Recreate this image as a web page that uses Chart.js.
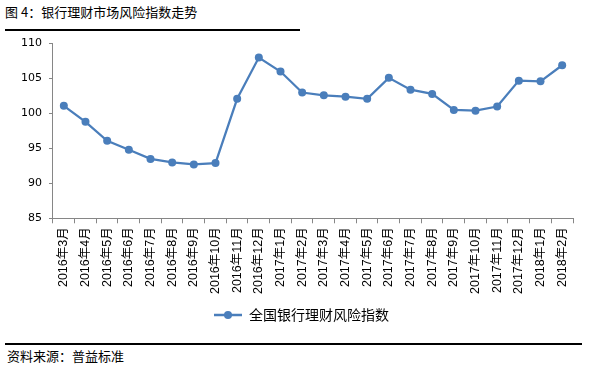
<!DOCTYPE html>
<html>
<head>
    <title>银行理财市场风险指数走势</title>
    <script src="https://cdn.jsdelivr.net/npm/chart.js"></script>
    <style>
        body {
            margin: 0;
            width: 589px;
            height: 370px;
            background: #fff;
            font-family: "Noto Sans CJK SC", sans-serif;
            position: relative;
            overflow: hidden;
        }
        #title {
            position: absolute;
            left: 5px;
            top: 2px;
            width: 295px;
            font-size: 13px;
            line-height: 20px;
            border-bottom: 2px solid #000;
            padding-bottom: 7px;
        }
        #chart-box {
            position: absolute;
            left: 0;
            top: 30px;
            width: 589px;
            height: 310px;
        }
        #source {
            position: absolute;
            left: 5px;
            top: 343px;
            width: 575px;
            border-top: 2px solid #000;
            font-size: 13px;
            line-height: 22px;
            padding-left: 2px;
        }
    </style>
</head>
<body>
    <div id="title">图 4：银行理财市场风险指数走势</div>
    <div id="chart-box"><canvas id="riskChart"></canvas></div>
    <div id="source">资料来源：普益标准</div>

    <script>
        // months and index values
        const months = ["2016年3月", "2016年4月", "2016年5月", "2016年6月", "2016年7月", "2016年8月",
            "2016年9月", "2016年10月", "2016年11月", "2016年12月", "2017年1月", "2017年2月",
            "2017年3月", "2017年4月", "2017年5月", "2017年6月", "2017年7月", "2017年8月",
            "2017年9月", "2017年10月", "2017年11月", "2017年12月", "2018年1月", "2018年2月"];
        const riskIndex = [101.1, 98.8, 96.1, 94.8, 93.5, 93.0, 92.7, 92.9, 102.1, 108.0, 106.0, 103.0,
            102.6, 102.4, 102.1, 105.1, 103.4, 102.8, 100.5, 100.4, 101.0, 104.7, 104.6, 106.9];
        const seriesName = "全国银行理财风险指数";
        const yTicks = [85, 90, 95, 100, 105, 110];

        const LINE_COLOR = "#4a7ebb";
        const AXIS_COLOR = "#868686";

        // legend marker: short line with a dot in the middle
        const marker = document.createElement("canvas");
        marker.width = 28;
        marker.height = 10;
        let mctx = marker.getContext("2d");
        mctx.strokeStyle = LINE_COLOR;
        mctx.lineWidth = 2.5;
        mctx.beginPath();
        mctx.moveTo(0, 5);
        mctx.lineTo(28, 5);
        mctx.stroke();
        mctx.fillStyle = LINE_COLOR;
        mctx.beginPath();
        mctx.arc(14, 5, 4, 0, Math.PI * 2);
        mctx.fill();

        // the legend sits a bit right of centre in the original
        const shiftLegend = {
            id: "shiftLegend",
            afterLayout(chart) {
                chart.legend.left += 8;
                chart.legend.right += 8;
            }
        };

        const ctx = document.getElementById("riskChart").getContext("2d");
        new Chart(ctx, {
            type: "line",
            data: {
                labels: months,
                datasets: [{
                    label: seriesName,
                    data: riskIndex,
                    borderColor: LINE_COLOR,
                    backgroundColor: LINE_COLOR,
                    borderWidth: 2.25,
                    pointRadius: 4,
                    pointHoverRadius: 4,
                    pointBorderWidth: 0,
                    tension: 0
                }]
            },
            options: {
                responsive: true,
                maintainAspectRatio: false,
                animation: false,
                layout: {
                    padding: { left: 14, right: 16, top: 1, bottom: 8 }
                },
                plugins: {
                    tooltip: { enabled: false },
                    legend: {
                        position: "bottom",
                        labels: {
                            usePointStyle: true,
                            pointStyle: marker,
                            pointStyleWidth: 28,
                            color: "#000",
                            padding: 10,
                            font: { family: "Noto Sans CJK SC", size: 14 }
                        }
                    }
                },
                scales: {
                    x: {
                        offset: true,
                        grid: {
                            offset: true,
                            drawOnChartArea: false,
                            drawTicks: true,
                            tickLength: 5,
                            color: AXIS_COLOR
                        },
                        border: { color: AXIS_COLOR, width: 1 },
                        ticks: {
                            minRotation: 90,
                            maxRotation: 90,
                            autoSkip: false,
                            color: "#000",
                            padding: 4,
                            font: { family: "Liberation Sans, Noto Sans CJK SC", size: 12.5 }
                        }
                    },
                    y: {
                        min: 85,
                        max: 110,
                        afterBuildTicks(axis) {
                            axis.ticks = yTicks.map(v => ({ value: v }));
                        },
                        grid: {
                            drawOnChartArea: false,
                            drawTicks: true,
                            tickLength: 4,
                            color: AXIS_COLOR
                        },
                        border: { color: AXIS_COLOR, width: 1 },
                        ticks: {
                            color: "#000",
                            padding: 7,
                            font: { family: "DejaVu Sans", size: 11 }
                        }
                    }
                }
            },
            plugins: [shiftLegend]
        });
    </script>
</body>
</html>
